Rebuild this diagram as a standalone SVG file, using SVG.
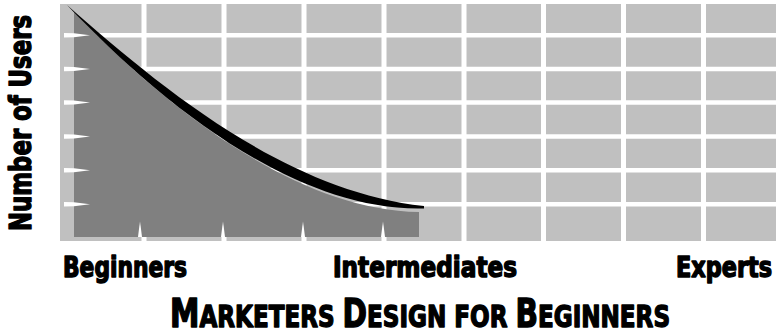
<svg xmlns="http://www.w3.org/2000/svg" width="776" height="334" viewBox="0 0 776 334">
<style>
.vl{stroke:#fff;stroke-width:5}
.hl{stroke:#fff;stroke-width:4.5}
.tick{fill:#fff}
.lbl{font-family:"Liberation Sans Narrow","DejaVu Sans Condensed","Liberation Sans",sans-serif;font-weight:bold;fill:#000;stroke:#000;stroke-width:1.4;stroke-linejoin:round}
</style>
<defs>
<clipPath id="dk"><rect x="74" y="0" width="345" height="237"/></clipPath>
</defs>
<rect width="776" height="334" fill="#fff"/>
<g id="grid">
<rect x="60" y="4" width="716" height="237" fill="#c0c0c0"/>
<line class="vl" x1="144" y1="4" x2="144" y2="241"/>
<line class="vl" x1="224" y1="4" x2="224" y2="241"/>
<line class="vl" x1="304" y1="4" x2="304" y2="241"/>
<line class="vl" x1="384" y1="4" x2="384" y2="241"/>
<line class="vl" x1="464" y1="4" x2="464" y2="241"/>
<line class="vl" x1="543.5" y1="4" x2="543.5" y2="241"/>
<line class="vl" x1="623.5" y1="4" x2="623.5" y2="241"/>
<line class="vl" x1="703.5" y1="4" x2="703.5" y2="241"/>
<line class="hl" x1="74" y1="35.3" x2="776" y2="35.3"/>
<line class="hl" x1="74" y1="69" x2="776" y2="69"/>
<line class="hl" x1="74" y1="102.5" x2="776" y2="102.5"/>
<line class="hl" x1="74" y1="136.5" x2="776" y2="136.5"/>
<line class="hl" x1="74" y1="170.2" x2="776" y2="170.2"/>
<line class="hl" x1="74" y1="204.3" x2="776" y2="204.3"/>
</g>
<g id="users-area">
<path clip-path="url(#dk)" fill="#808080" d="M67,5 C160,103 295,212 422,212 L422,237 L67,237 Z"/>
<path fill="#000" d="M67,5 C160,87 285,191 424,206 L424,208.5 C295,212 160,103 67,5 Z"/>
</g>
<g id="ticks">
<polygon class="tick" points="64,33 74,33.3 90,35.3 74,37.3 64,37.6"/>
<polygon class="tick" points="64,66.7 74,67 90,69 74,71 64,71.3"/>
<polygon class="tick" points="64,100.2 74,100.5 90,102.5 74,104.5 64,104.8"/>
<polygon class="tick" points="64,134.2 74,134.5 90,136.5 74,138.5 64,138.8"/>
<polygon class="tick" points="64,167.9 74,168.2 90,170.2 74,172.2 64,172.5"/>
<polygon class="tick" points="64,202 74,202.3 90,204.3 74,206.3 64,206.6"/>
<polygon class="tick" points="138,237 139,229 140,221.5 141,229 142,237"/>
<polygon class="tick" points="221,237 222,229 223,221.5 224,229 225,237"/>
<polygon class="tick" points="301,237 302,229 303,221.5 304,229 305,237"/>
<polygon class="tick" points="381,237 382,229 383,221.5 384,229 385,237"/>
</g>
<g id="labels">
<text class="lbl" transform="translate(31,231) rotate(-90)" x="0" y="0" font-size="31" textLength="216" lengthAdjust="spacingAndGlyphs">Number of Users</text>
<text class="lbl" x="63" y="277" font-size="28" textLength="124" lengthAdjust="spacingAndGlyphs">Beginners</text>
<text class="lbl" x="333" y="277" font-size="28" textLength="184" lengthAdjust="spacingAndGlyphs">Intermediates</text>
<text class="lbl" x="676" y="277" font-size="28" textLength="96" lengthAdjust="spacingAndGlyphs">Experts</text>
<text class="lbl" x="170" y="327" font-size="30.5" textLength="500" lengthAdjust="spacingAndGlyphs"><tspan font-size="39">M</tspan>ARKETERS <tspan font-size="39">D</tspan>ESIGN FOR <tspan font-size="39">B</tspan>EGINNERS</text>
</g>
</svg>
